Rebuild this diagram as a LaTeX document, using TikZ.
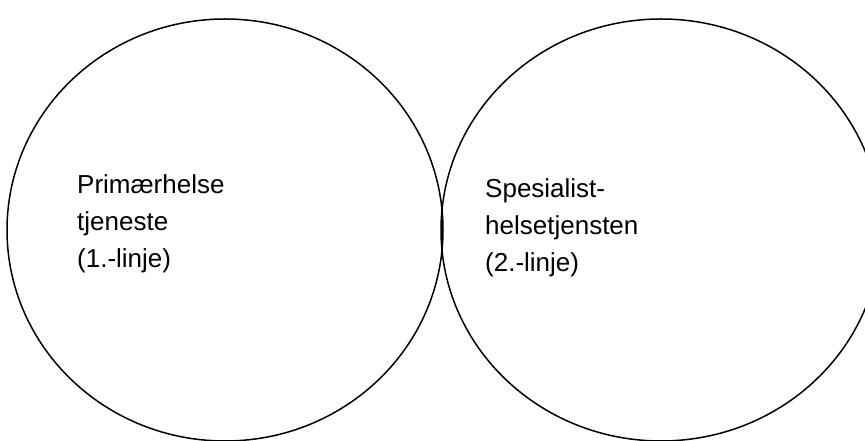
\documentclass[tikz,border=0pt]{standalone}
\usepackage{fontspec}
\setmainfont{Liberation Sans}
\begin{document}
\begin{tikzpicture}[x=1pt,y=1pt,
  ring/.style={draw=black,line width=1.5pt},
  label/.style={anchor=north west,inner sep=0pt,align=left,font=\fontsize{26}{37}\selectfont}]
\useasboundingbox (0,0) rectangle (865,441);
\begin{scope}
\clip (0,0) rectangle (865,441);
\draw[ring] (225,211) ellipse [x radius=218, y radius=211];
\draw[ring] (661,211) ellipse [x radius=220, y radius=211];
\end{scope}
\node[label] (prim) at (77,267) {Primærhelse\\tjeneste\\(1.-linje)};
\node[label] (spes) at (485,263) {Spesialist-\\helsetjensten\\(2.-linje)};
\end{tikzpicture}
\end{document}
